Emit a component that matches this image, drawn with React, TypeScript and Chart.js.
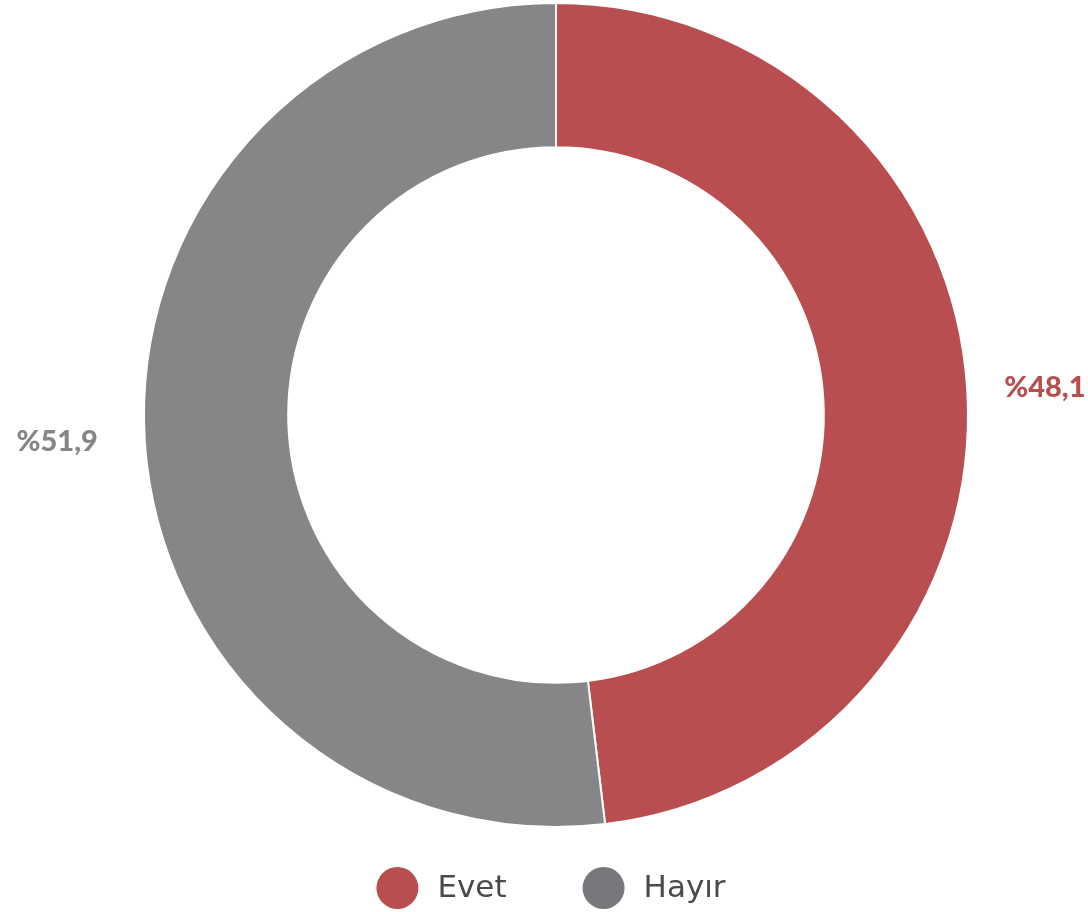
import React, { useEffect, useRef } from "react";
import { Chart, registerables } from "chart.js";

Chart.register(...registerables);

const categories = ["Evet", "Hayır"];
const values = [48.1, 51.9];
const sliceColors = ["#B94E50", "#868688"];
const legendColors = ["#B94E50", "#76787B"];
const LABEL_FONT = "Lato, 'Open Sans', sans-serif";
const LEGEND_FONT = "'DejaVu Sans', sans-serif";

const labelPlugin = {
  id: "outerLabels",
  afterDraw(chart: any) {
    const ctx = chart.ctx;
    const meta = chart.getDatasetMeta(0);
    const ds = chart.data.datasets[0];
    ctx.save();
    ctx.font = `900 29px ${LABEL_FONT}`;
    ctx.textBaseline = "middle";
    meta.data.forEach((arc: any, i: number) => {
      const { x, y, startAngle, endAngle, outerRadius } = arc.getProps(
        ["x", "y", "startAngle", "endAngle", "outerRadius"],
        true
      );
      const mid = (startAngle + endAngle) / 2;
      const r = outerRadius + 42;
      const px = x + Math.cos(mid) * r - 5;
      const py = y + Math.sin(mid) * r;
      ctx.textAlign = Math.cos(mid) >= 0 ? "left" : "right";
      ctx.fillStyle = ds.backgroundColor[i];
      const txt = "%" + ds.data[i].toFixed(1).replace(".", ",");
      ctx.fillText(txt, px, py);
    });

    // legend
    const labels = chart.data.labels as string[];
    ctx.font = `31px ${LEGEND_FONT}`;
    const radius = 21;
    const textOffset = 40;
    const gap = 76;
    const widths = labels.map((l) => radius + textOffset + ctx.measureText(l).width);
    const total = widths.reduce((a, b) => a + b, 0) + gap * (labels.length - 1);
    const ca = chart.chartArea;
    let xCursor = (ca.left + ca.right) / 2 - total / 2 - 5;
    const ly = chart.height - 24;
    labels.forEach((l, i) => {
      const cx = xCursor + radius;
      ctx.beginPath();
      ctx.arc(cx, ly, radius, 0, Math.PI * 2);
      ctx.fillStyle = legendColors[i];
      ctx.fill();
      ctx.fillStyle = "#4a4a4a";
      ctx.textAlign = "left";
      ctx.textBaseline = "middle";
      ctx.fillText(l, cx + textOffset, ly + 1);
      xCursor += widths[i] + gap;
    });
    ctx.restore();
  },
};

export default function App() {
  const ref = useRef<HTMLCanvasElement>(null);
  useEffect(() => {
    if (!ref.current) return;
    const chart = new Chart(ref.current, {
      type: "doughnut",
      data: {
        labels: categories,
        datasets: [
          {
            data: values,
            backgroundColor: sliceColors,
            borderColor: "#ffffff",
            borderWidth: 2,
            hoverOffset: 0,
          },
        ],
      },
      options: {
        responsive: true,
        maintainAspectRatio: false,
        animation: false,
        cutout: "65%",
        layout: { padding: { top: 2, left: 24, right: 0, bottom: 84 } },
        plugins: {
          legend: { display: false },
          tooltip: { enabled: false },
        },
        events: [],
      },
      plugins: [labelPlugin],
    });
    return () => chart.destroy();
  }, []);
  return (
    <div style={{ position: "absolute", left: 0, top: 0, width: 1088, height: 912, background: "#fff" }}>
      <canvas ref={ref} />
    </div>
  );
}
